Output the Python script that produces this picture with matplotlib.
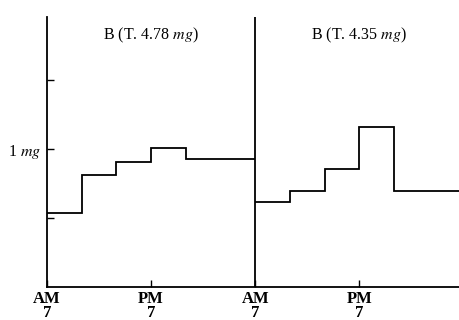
import matplotlib
matplotlib.use("Agg")
import matplotlib.pyplot as plt

plt.rcParams['font.family'] = ['Liberation Serif', 'DejaVu Serif']
plt.rcParams['mathtext.fontset'] = 'stix'

# hours from 7 AM of the first day
edges_1 = [0, 4, 8, 12, 16, 24]
values_1 = [0.54, 0.81, 0.91, 1.01, 0.93]
edges_2 = [24, 28, 32, 36, 40, 48]
values_2 = [0.62, 0.70, 0.86, 1.16, 0.70]
titles = [r'B (T. 4.78 $\mathit{mg}$)', r'B (T. 4.35 $\mathit{mg}$)']
title_x = [12, 36]
tick_pos = [0, 12, 24, 36]
tick_labels = ['AM\n7', 'PM\n7', 'AM\n7', 'PM\n7']

fig = plt.figure(figsize=(4.59, 3.2), dpi=100)
ax = fig.add_axes([47 / 459, 33 / 320, 1 - 47 / 459, 270 / 320])

ax.stairs(values_1, edges_1, baseline=None, color='black', linewidth=1.3)
ax.stairs(values_2, edges_2, baseline=None, color='black', linewidth=1.3)
ax.axvline(24, color='black', linewidth=1.3)

for t, x in zip(titles, title_x):
    ax.text(x, 1.83, t, ha='center', va='center', fontsize=11.5)

ax.set_xlim(0, 47.5)
ax.set_ylim(0, 1.96)
ax.set_xticks(tick_pos)
ax.set_xticklabels(tick_labels, fontsize=12, fontweight='bold', linespacing=0.78)
ax.set_yticks([0.5, 1.0, 1.5])
ax.set_yticklabels(['', r'1 $\mathit{mg}$', ''], fontsize=11.5)
ax.tick_params(direction='in', length=5, width=1, pad=4)
ax.tick_params(axis='x', pad=3)

for s in ['top', 'right']:
    ax.spines[s].set_visible(False)
for s in ['left', 'bottom']:
    ax.spines[s].set_linewidth(1.3)

fig.savefig('out.png', dpi=100)
